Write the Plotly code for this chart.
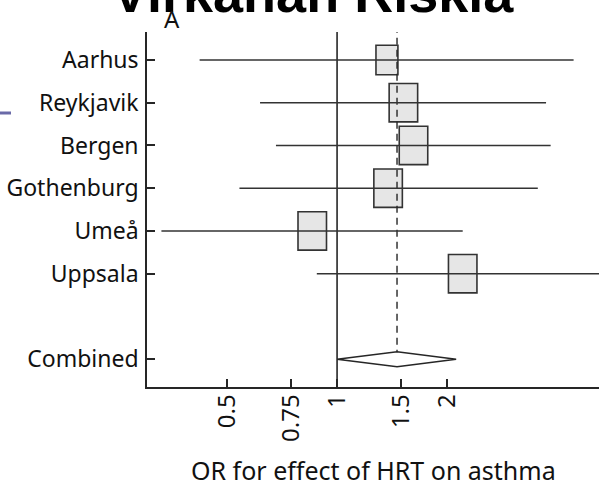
import math
import plotly.graph_objects as go

# Study-level odds ratios with 95% confidence intervals
studies = ["Aarhus", "Reykjavik", "Bergen", "Gothenburg", "Umeå", "Uppsala"]
odds_ratio = [1.37, 1.52, 1.62, 1.38, 0.855, 2.21]
ci_low = [0.42, 0.615, 0.68, 0.54, 0.33, 0.88]
ci_high = [4.45, 3.74, 3.85, 3.55, 2.21, 5.8]

# Pooled estimate
combined_label = "Combined"
combined_or = 1.46
combined_low = 1.0
combined_high = 2.12

# x-axis ticks
x_ticks = [0.5, 0.75, 1, 1.5, 2]
x_tick_text = ["0.5", "0.75", "1", "1.5", "2"]

FONT = "Noto Sans"
INK = "#262626"
W, H = 599, 485
M_L, M_R, M_T, M_B = 147, 0, 32, 98
X_RANGE = [-0.521, 0.718]          # log10 of the OR range
Y_RANGE = [7.65, -0.654]

plot_w = W - M_L - M_R
plot_h = H - M_T - M_B
px_per_ln = plot_w / ((X_RANGE[1] - X_RANGE[0]) * math.log(10))
px_per_row = plot_h / (Y_RANGE[0] - Y_RANGE[1])

rows = list(range(len(studies)))
combined_row = len(studies) + 1

# relative box size per study (study weight); base box is 28.5 x 38.3 px
box_scale = [0.77, 1, 1, 1, 1, 1]
BOX_W, BOX_H = 28.5, 38.3
DIAMOND_HALF = 7.5 / px_per_row

fig = go.Figure()

# confidence-interval whiskers
xs, ys = [], []
for r, lo, hi in zip(rows, ci_low, ci_high):
    xs += [lo, hi, None]
    ys += [r, r, None]
fig.add_trace(go.Scatter(x=xs, y=ys, mode="lines",
                         line=dict(color="#333333", width=1.6),
                         hoverinfo="skip", showlegend=False))

# pooled diamond
fig.add_trace(go.Scatter(
    x=[combined_low, combined_or, combined_high, combined_or, combined_low],
    y=[combined_row, combined_row - DIAMOND_HALF, combined_row,
       combined_row + DIAMOND_HALF, combined_row],
    mode="lines", fill="toself", fillcolor="white",
    line=dict(color=INK, width=1.4), hoverinfo="skip", showlegend=False))

shapes = []
# study boxes centred on the estimate
for r, est, s in zip(rows, odds_ratio, box_scale):
    f = math.exp(BOX_W * s / 2 / px_per_ln)
    hh = BOX_H * s / 2 / px_per_row
    shapes.append(dict(type="rect", xref="x", yref="y",
                       x0=est / f, x1=est * f, y0=r - hh, y1=r + hh,
                       fillcolor="#e6e6e6",
                       line=dict(color="#333333", width=1.6),
                       layer="below"))
# line of no effect
shapes.append(dict(type="line", xref="x", yref="paper", x0=1, x1=1, y0=0, y1=1,
                   line=dict(color=INK, width=1.6), layer="below"))
# pooled estimate reference
shapes.append(dict(type="line", xref="x", yref="y",
                   x0=combined_or, x1=combined_or,
                   y0=-0.8, y1=combined_row - DIAMOND_HALF,
                   line=dict(color=INK, width=1.4, dash="7px,5px"), layer="below"))
# small blue rule at the left edge
shapes.append(dict(type="line", xref="paper", yref="paper",
                   x0=-M_L / plot_w, x1=(-M_L + 11) / plot_w,
                   y0=(H - M_B - 113) / plot_h, y1=(H - M_B - 113) / plot_h,
                   line=dict(color="#6a6aa8", width=3)))

annotations = [
    dict(text="<b>Virkahan Riskia</b>", xref="paper", yref="paper",
         x=(313 - M_L) / plot_w, y=1 + (M_T - 25) / plot_h,
         xanchor="center", yanchor="bottom", showarrow=False,
         font=dict(family="Liberation Sans", size=54, color="black")),
    dict(text="A", xref="paper", yref="paper",
         x=(172 - M_L) / plot_w, y=1 + (M_T - 18.5) / plot_h,
         xanchor="center", yanchor="middle", showarrow=False,
         font=dict(family=FONT, size=24, color="#111111")),
    dict(text="OR for effect of HRT on asthma", xref="paper", yref="paper",
         x=0.5, y=-(470.5 - (H - M_B)) / plot_h,
         xanchor="center", yanchor="middle", showarrow=False,
         font=dict(family=FONT, size=25, color="#111111")),
]

fig.update_layout(
    width=W, height=H,
    margin=dict(l=M_L, r=M_R, t=M_T, b=M_B, pad=0),
    paper_bgcolor="white", plot_bgcolor="white",
    shapes=shapes, annotations=annotations,
    showlegend=False,
    xaxis=dict(type="log", range=X_RANGE,
               tickvals=x_ticks, ticktext=x_tick_text, tickangle=-90,
               ticks="inside", ticklen=8, tickwidth=1.6, tickcolor=INK,
               ticklabelstandoff=-4,
               showline=True, linecolor=INK, linewidth=1.6,
               showgrid=False, zeroline=False,
               tickfont=dict(family=FONT, size=24, color="#111111")),
    yaxis=dict(range=Y_RANGE,
               tickvals=rows + [combined_row],
               ticktext=studies + [combined_label],
               ticks="inside", ticklen=8, tickwidth=1.6, tickcolor=INK,
               ticklabelstandoff=2,
               showline=True, linecolor=INK, linewidth=1.6,
               showgrid=False, zeroline=False,
               tickfont=dict(family=FONT, size=23, color="#111111")),
)

fig.write_html("out.html")
